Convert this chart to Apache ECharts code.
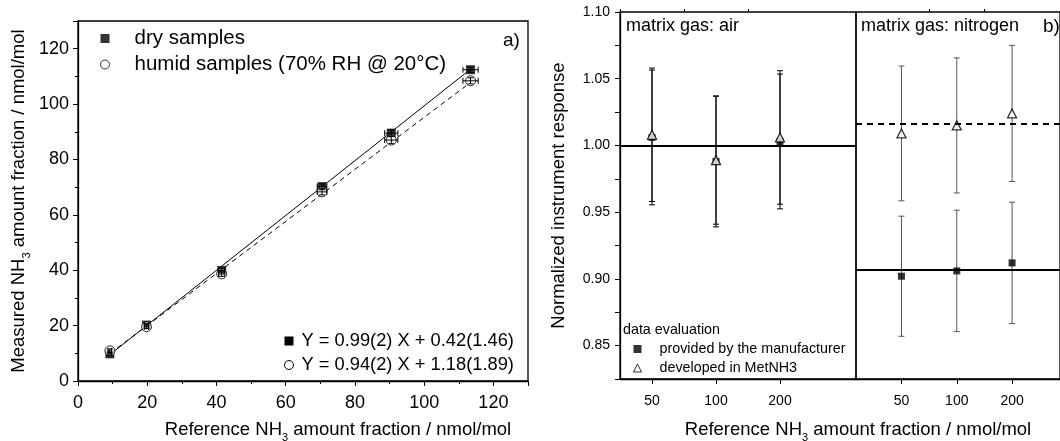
<!DOCTYPE html>
<html>
<head>
<meta charset="utf-8">
<title>NH3 analyser response</title>
<script src="https://cdn.jsdelivr.net/npm/echarts@6/dist/echarts.min.js"></script>
<style>
  html, body { margin: 0; padding: 0; background: #fff; }
  #chart { width: 1060px; height: 441px; }
</style>
</head>
<body>
<div id="chart"></div>
<script>
// a) measured vs reference amount fraction
var refX      = [9.2, 19.8, 41.5, 70.5, 90.5, 113.4];
var dryY      = [9.8, 20.2, 39.9, 70.2, 89.5, 112.4];
var humidY    = [10.9, 19.6, 38.7, 68.3, 87.0, 108.4];
var refXErr   = [0.5, 0.6, 0.9, 1.4, 1.9, 2.2];
var dryYErr   = [0.6, 0.6, 0.8, 1.0, 1.2, 1.0];
var humidYErr = [0.7, 0.7, 0.9, 1.1, 1.3, 1.1];
var fitX      = [9.2, 113.4];
var fitDryY   = [9.5, 112.6];
var fitHumidY = [9.9, 107.8];

// b) normalized response, three concentrations per matrix gas
var concLabels = ['50', '100', '200'];
var airMfr     = [1.006, 0.988, 1.003];
var airMfrErr  = [0.0505, 0.049, 0.0505];
var airDev     = [1.008, 0.989, 1.006];
var airDevErr  = [0.050, 0.048, 0.050];
var n2Mfr      = [0.902, 0.906, 0.912];
var n2MfrErr   = [0.045, 0.0455, 0.0455];
var n2Dev      = [1.009, 1.015, 1.024];
var n2DevErr   = [0.0505, 0.0506, 0.051];
var airMean    = 1.000;
var n2MfrMean  = 0.907;
var n2DevMean  = 1.016;

var FONT = "'Liberation Sans', Arial, sans-serif";
var chart = echarts.init(document.getElementById('chart'));

function subRich(size) {
  return {
    a: { fontSize: size, fontFamily: FONT, color: '#000', lineHeight: 26 },
    s: { fontSize: Math.round(size * 0.62), fontFamily: FONT, color: '#000', lineHeight: 26, verticalAlign: 'bottom' }
  };
}

function errorBars(color, cap) {
  return function (params, api) {
    var x = api.value(0), y = api.value(1), ex = api.value(2), ey = api.value(3);
    var st = { stroke: color, lineWidth: 1 };
    var kids = [];
    if (ey > 0) {
      var t = api.coord([x, y + ey]), b = api.coord([x, y - ey]);
      kids.push({ type: 'line', shape: { x1: t[0], y1: t[1], x2: b[0], y2: b[1] }, style: st });
      kids.push({ type: 'line', shape: { x1: t[0] - cap, y1: t[1], x2: t[0] + cap, y2: t[1] }, style: st });
      kids.push({ type: 'line', shape: { x1: b[0] - cap, y1: b[1], x2: b[0] + cap, y2: b[1] }, style: st });
    }
    if (ex > 0) {
      var l = api.coord([x - ex, y]), r = api.coord([x + ex, y]);
      kids.push({ type: 'line', shape: { x1: l[0], y1: l[1], x2: r[0], y2: r[1] }, style: st });
      kids.push({ type: 'line', shape: { x1: l[0], y1: l[1] - cap, x2: l[0], y2: l[1] + cap }, style: st });
      kids.push({ type: 'line', shape: { x1: r[0], y1: r[1] - cap, x2: r[0], y2: r[1] + cap }, style: st });
    }
    return { type: 'group', children: kids };
  };
}

var pos = concLabels.map(function (l, i) { return i + 1; });
function pts(xs, ys) { return xs.map(function (x, i) { return [x, ys[i]]; }); }
function errPts(xs, ys, ex, ey) {
  return xs.map(function (x, i) { return [x, ys[i], ex ? ex[i] : 0, ey[i]]; });
}
function concLabel(v) {
  var i = Math.round(v) - 1;
  return Math.abs(v - Math.round(v)) < 1e-6 && concLabels[i] ? concLabels[i] : '';
}

var black = { color: '#000', width: 1 };
var NAME_DRY = 'dry samples', NAME_HUM = 'humid samples (70% RH @ 20°C)';
var NAME_FIT_DRY = 'Y = 0.99(2) X + 0.42(1.46)', NAME_FIT_HUM = 'Y = 0.94(2) X + 1.18(1.89)';
var NAME_MFR = 'provided by the manufacturer', NAME_DEV = 'developed in MetNH3';

function leftAxis(extra, margin) {
  return Object.assign({
    type: 'value', min: 0, max: 130, interval: 20,
    axisLine: { lineStyle: { color: '#000', width: 1.3 } },
    axisTick: { length: 5, lineStyle: black },
    minorTick: { show: true, splitNumber: 2, length: 3, lineStyle: black },
    axisLabel: { fontSize: 18, fontFamily: FONT, color: '#000', margin: margin, showMaxLabel: false,
      formatter: function (v) { return v % 20 === 0 ? v : ''; } },
    splitLine: { show: false }, minorSplitLine: { show: false }
  }, extra);
}

function panelX(grid, min, max, ticks, labels) {
  return {
    type: 'value', gridIndex: grid, min: min, max: max,
    axisLine: { show: labels, lineStyle: { color: '#000', width: 1.3 } },
    axisTick: { length: labels ? 5 : 3, lineStyle: black, customValues: ticks },
    axisLabel: labels ? { fontSize: 14, fontFamily: FONT, color: '#000', margin: 15, customValues: ticks, formatter: concLabel } : { show: false },
    splitLine: { show: false }
  };
}

function panelY(grid, show, extra) {
  return Object.assign({
    type: 'value', gridIndex: grid, min: 0.825, max: 1.10, interval: 0.025,
    axisLine: { show: show, lineStyle: { color: '#000', width: 1.3 } },
    axisTick: { show: show, length: 5, lineStyle: black },
    axisLabel: { show: show, fontSize: 14, fontFamily: FONT, color: '#000', margin: 10,
      formatter: function (v) { return Math.round(v * 1000) % 50 === 0 ? v.toFixed(2) : ''; } },
    splitLine: { show: false }
  }, extra);
}

function meanLine(v, dashed) {
  return {
    silent: true, symbol: 'none', precision: 3, label: { show: false },
    lineStyle: { color: '#000', width: 2, type: dashed ? [6, 5] : 'solid' },
    data: [{ yAxis: v }]
  };
}

var hollow = { color: '#fff', borderColor: '#000', borderWidth: 1 };

var option = {
  backgroundColor: '#fff',
  animation: false,
  grid: [
    { left: 78, top: 21, width: 450, height: 360, show: true, borderColor: '#000', borderWidth: 1.3 },
    { left: 620, top: 12, width: 236, height: 367, show: true, borderColor: '#000', borderWidth: 1.3 },
    { left: 856, top: 12, width: 236, height: 367, show: true, borderColor: '#000', borderWidth: 1.3 }
  ],
  xAxis: [
    leftAxis({ gridIndex: 0 }, 13),
    panelX(1, 0.5, 4.1875, pos, true),
    panelX(1, 0.5, 4.1875, [0.5, 1.5, 2.5], false),
    panelX(2, 0.178, 3.866, pos, true),
    panelX(2, 0.178, 3.866, [1.5, 2.5], false)
  ],
  yAxis: [
    leftAxis({ gridIndex: 0, name: '{a|Measured NH}{s|3}{a| amount fraction / nmol/mol}',
      nameLocation: 'middle', nameGap: 46, nameTextStyle: { rich: subRich(18.5) } }, 9),
    panelY(1, true, { name: 'Normalized instrument response', nameLocation: 'middle', nameGap: 52,
      nameTextStyle: { fontSize: 18.5, fontFamily: FONT, color: '#000' } }),
    panelY(2, false)
  ],
  legend: [
    {
      data: [{ name: NAME_DRY, icon: 'rect' },
             { name: NAME_HUM, icon: 'circle', itemStyle: hollow }],
      orient: 'vertical', left: 95, top: 23, itemWidth: 9, itemHeight: 9, itemGap: 5, selectedMode: false,
      textStyle: { fontSize: 20.5, lineHeight: 20, fontFamily: FONT, color: '#000', padding: [0, 0, 0, 20] }
    },
    {
      data: [{ name: NAME_FIT_DRY, icon: 'rect', itemStyle: { color: '#000' } },
             { name: NAME_FIT_HUM, icon: 'circle', itemStyle: hollow }],
      orient: 'vertical', left: 279, top: 327, itemWidth: 9, itemHeight: 9, itemGap: 6, selectedMode: false,
      textStyle: { fontSize: 18.3, lineHeight: 18, fontFamily: FONT, color: '#000', padding: [0, 0, 0, 3] }
    },
    {
      data: [{ name: NAME_MFR, icon: 'rect' },
             { name: NAME_DEV, icon: 'triangle', itemStyle: hollow }],
      orient: 'vertical', left: 628, top: 337, itemWidth: 8, itemHeight: 8, itemGap: 5, selectedMode: false,
      textStyle: { fontSize: 14.3, lineHeight: 14, fontFamily: FONT, color: '#000', padding: [0, 0, 0, 13] }
    }
  ],
  graphic: [
    { type: 'text', left: 503, top: 31, style: { text: 'a)', fontSize: 19, fontFamily: FONT, fill: '#000' } },
    { type: 'text', left: 626, top: 17, style: { text: 'matrix gas: air', fontSize: 18, fontFamily: FONT, fill: '#000' } },
    { type: 'text', left: 861, top: 17, style: { text: 'matrix gas: nitrogen', fontSize: 18, fontFamily: FONT, fill: '#000' } },
    { type: 'text', left: 1043, top: 17, style: { text: 'b)', fontSize: 19, fontFamily: FONT, fill: '#000' } },
    { type: 'text', left: 623, top: 323, style: { text: 'data evaluation', fontSize: 14.3, fontFamily: FONT, fill: '#000' } },
    { type: 'text', x: 338, y: 430, style: { text: '{a|Reference NH}{s|3}{a| amount fraction / nmol/mol}',
      rich: subRich(18.5), align: 'center', verticalAlign: 'middle' } },
    { type: 'text', x: 858, y: 430, style: { text: '{a|Reference NH}{s|3}{a| amount fraction / nmol/mol}',
      rich: subRich(18.5), align: 'center', verticalAlign: 'middle' } }
  ],
  series: [
    // panel a)
    { name: NAME_FIT_DRY, type: 'line', xAxisIndex: 0, yAxisIndex: 0, data: pts(fitX, fitDryY),
      symbol: 'none', lineStyle: { color: '#000', width: 1 }, itemStyle: { color: '#000' }, z: 2 },
    { name: NAME_FIT_HUM, type: 'line', xAxisIndex: 0, yAxisIndex: 0, data: pts(fitX, fitHumidY),
      symbol: 'none', lineStyle: { color: '#000', width: 1, type: [5, 4] }, itemStyle: { color: '#000' }, z: 2 },
    { name: NAME_DRY, type: 'scatter', xAxisIndex: 0, yAxisIndex: 0, data: pts(refX, dryY),
      symbol: 'rect', symbolSize: 9, itemStyle: { color: '#000' }, z: 3 },
    { name: NAME_HUM, type: 'scatter', xAxisIndex: 0, yAxisIndex: 0, data: pts(refX, humidY),
      symbol: 'circle', symbolSize: 10, itemStyle: hollow, z: 3 },
    { type: 'custom', xAxisIndex: 0, yAxisIndex: 0, renderItem: errorBars('#000', 3), encode: { x: 0, y: 1 },
      data: errPts(refX, dryY, refXErr, dryYErr), z: 4, silent: true },
    { type: 'custom', xAxisIndex: 0, yAxisIndex: 0, renderItem: errorBars('#000', 3), encode: { x: 0, y: 1 },
      data: errPts(refX, humidY, refXErr, humidYErr), z: 4, silent: true },

    // panel b) air
    { type: 'custom', xAxisIndex: 1, yAxisIndex: 1, renderItem: errorBars('#000', 3), encode: { x: 0, y: 1 },
      data: errPts(pos, airMfr, null, airMfrErr), z: 2, silent: true },
    { type: 'custom', xAxisIndex: 1, yAxisIndex: 1, renderItem: errorBars('#000', 3), encode: { x: 0, y: 1 },
      data: errPts(pos, airDev, null, airDevErr), z: 2, silent: true },
    { name: NAME_MFR, type: 'scatter', xAxisIndex: 1, yAxisIndex: 1, data: pts(pos, airMfr),
      symbol: 'rect', symbolSize: 7, itemStyle: { color: '#000' }, z: 3, markLine: meanLine(airMean, false) },
    { name: NAME_DEV, type: 'scatter', xAxisIndex: 1, yAxisIndex: 1, data: pts(pos, airDev),
      symbol: 'triangle', symbolSize: 9, itemStyle: { color: '#fff', borderColor: '#000', borderWidth: 1.3 }, z: 4 },

    // panel b) nitrogen
    { type: 'custom', xAxisIndex: 3, yAxisIndex: 2, renderItem: errorBars('#555', 3), encode: { x: 0, y: 1 },
      data: errPts(pos, n2Mfr, null, n2MfrErr), z: 2, silent: true },
    { type: 'custom', xAxisIndex: 3, yAxisIndex: 2, renderItem: errorBars('#555', 3), encode: { x: 0, y: 1 },
      data: errPts(pos, n2Dev, null, n2DevErr), z: 2, silent: true },
    { name: NAME_MFR, type: 'scatter', xAxisIndex: 3, yAxisIndex: 2, data: pts(pos, n2Mfr),
      symbol: 'rect', symbolSize: 7, itemStyle: { color: '#000' }, z: 3, markLine: meanLine(n2MfrMean, false) },
    { name: NAME_DEV, type: 'scatter', xAxisIndex: 3, yAxisIndex: 2, data: pts(pos, n2Dev),
      symbol: 'triangle', symbolSize: 9, itemStyle: { color: '#fff', borderColor: '#000', borderWidth: 1.3 }, z: 4,
      markLine: meanLine(n2DevMean, true) }
  ]
};

chart.setOption(option);
window.addEventListener('resize', function () { chart.resize(); });
</script>
</body>
</html>
